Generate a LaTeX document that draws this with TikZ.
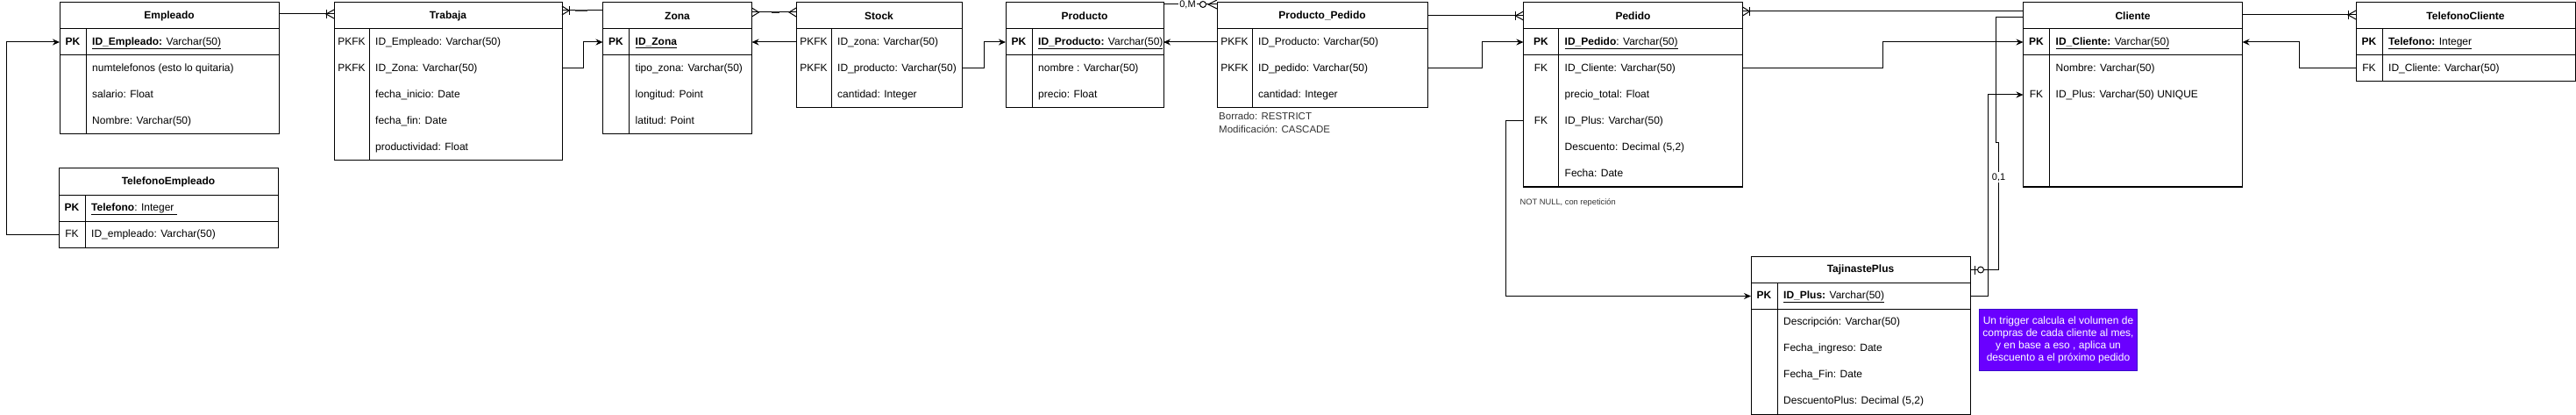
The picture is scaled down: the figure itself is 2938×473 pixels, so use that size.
\documentclass[tikz,border=0pt]{standalone}
\usepackage{fontspec}
\setmainfont{Liberation Sans}
\usetikzlibrary{arrows.meta}
\definecolor{notefill}{HTML}{6A00FF}
\definecolor{notedraw}{HTML}{3700CC}
\definecolor{txtgray}{HTML}{333333}
\tikzset{
  ln/.style={line width=1pt, draw=black},
  arr/.style={ln, -{Stealth[length=8pt,width=7pt]}},
  mk/.style={line width=1pt},
  hdrbox/.style={draw, line width=1pt, minimum height=30pt, inner sep=0pt, outer sep=0pt, font=\fontsize{12}{14}\selectfont\bfseries},
  bodybox/.style={draw, line width=1pt, inner sep=0pt, outer sep=0pt},
  rowbox/.style={minimum height=30pt, inner sep=0pt, outer sep=0pt},
  keytxt/.style={inner sep=0pt, font=\fontsize{12}{14}\selectfont, text height=8.6pt, text depth=2.5pt},
  fldtxt/.style={keytxt, anchor=west},
  lbl/.style={fill=white, inner sep=1pt, font=\fontsize{11}{13}\selectfont},
  smallnote/.style={inner sep=0pt, text=txtgray, align=left},
  trignote/.style={draw=notedraw, fill=notefill, line width=1pt, text=white, align=center, minimum width=180pt, minimum height=70pt, inner sep=0pt, font=\fontsize{12}{14}\selectfont},
}
% #1 name, #2 x, #3 y, #4 width, #5 key width, #6 rows, #7 title
\newcommand{\ERtab}[7]{%
  \node[hdrbox, minimum width=#4pt, anchor=north west] (#1) at (#2,#3) {#7};
  \node[bodybox, minimum width=#4pt, minimum height=#6*30pt, anchor=north west] (#1b) at (#2,{#3+30}) {};
  \draw[ln] ([xshift=#5pt]#1b.north west) -- ([xshift=#5pt]#1b.south west);
}
\newcommand{\ERsep}[1]{\draw[ln] ([yshift=-30pt]#1b.north west) -- ([yshift=-30pt]#1b.north east);}
% #1 name, #2 x, #3 ytop, #4 width, #5 key width, #6 key, #7 text
\newcommand{\ERrow}[7]{%
  \node[rowbox, minimum width=#4pt, anchor=north west] (#1) at (#2,#3) {};
  \node[keytxt] (#1k) at ({#2+#5/2},{#3+15}) {#6};
  \node[fldtxt] (#1f) at ({#2+#5+7},{#3+15}) {#7};
}
\newcommand{\mkcrow}[3]{\draw[mk,shift={(#1)},xscale=#2] (0,-5) -- (#3,0) -- (0,5);}
\newcommand{\mkbar}[3]{\draw[mk,shift={(#1)},xscale=#2] (#3,-5) -- (#3,5);}
\newcommand{\mkcirc}[3]{\draw[mk,fill=white,shift={(#1)},xscale=#2] (#3,0) circle[radius=3.5pt];}
\begin{document}
\begin{tikzpicture}[x=1pt,y=-1pt]
\useasboundingbox (0,0) rectangle (2938,473);

% ---------- Empleado
\ERtab{emp}{68}{3}{250}{30}{4}{Empleado}
\ERsep{emp}
\ERrow{emp1}{68}{33}{250}{30}{\textbf{PK}}{\underline{\textbf{ID\_Empleado:} Varchar(50)}}
\ERrow{emp2}{68}{63}{250}{30}{}{numtelefonos (esto lo quitaria)}
\ERrow{emp3}{68}{93}{250}{30}{}{salario: Float}
\ERrow{emp4}{68}{123}{250}{30}{}{Nombre: Varchar(50)}

% ---------- TelefonoEmpleado
\ERtab{temp}{67}{192}{250}{30}{2}{TelefonoEmpleado}
\ERsep{temp}
\ERrow{temp1}{67}{222}{250}{30}{\textbf{PK}}{\underline{\textbf{Telefono}: Integer\ }}
\ERrow{temp2}{67}{252}{250}{30}{FK}{ID\_empleado: Varchar(50)}

% ---------- Trabaja
\ERtab{tra}{381}{3}{260}{40}{5}{Trabaja}
\ERrow{tra1}{381}{33}{260}{40}{PKFK}{ID\_Empleado: Varchar(50)}
\ERrow{tra2}{381}{63}{260}{40}{PKFK}{ID\_Zona: Varchar(50)}
\ERrow{tra3}{381}{93}{260}{40}{}{fecha\_inicio: Date}
\ERrow{tra4}{381}{123}{260}{40}{}{fecha\_fin: Date}
\ERrow{tra5}{381}{153}{260}{40}{}{productividad: Float}

% ---------- Zona
\ERtab{zon}{687.5}{3}{170}{30}{4}{Zona}
\ERsep{zon}
\ERrow{zon1}{687.5}{33}{170}{30}{\textbf{PK}}{\underline{\textbf{ID\_Zona}}}
\ERrow{zon2}{687.5}{63}{170}{30}{}{tipo\_zona: Varchar(50)}
\ERrow{zon3}{687.5}{93}{170}{30}{}{longitud: Point}
\ERrow{zon4}{687.5}{123}{170}{30}{}{latitud: Point}

% ---------- Stock
\ERtab{sto}{908}{3}{189}{40}{3}{Stock}
\ERrow{sto1}{908}{33}{189}{40}{PKFK}{ID\_zona: Varchar(50)}
\ERrow{sto2}{908}{63}{189}{40}{PKFK}{ID\_producto: Varchar(50)}
\ERrow{sto3}{908}{93}{189}{40}{}{cantidad: Integer}

% ---------- Producto
\ERtab{pro}{1147}{3}{180}{30}{3}{Producto}
\ERsep{pro}
\ERrow{pro1}{1147}{33}{180}{30}{\textbf{PK}}{\underline{\textbf{ID\_Producto:} Varchar(50)}}
\ERrow{pro2}{1147}{63}{180}{30}{}{nombre : Varchar(50)}
\ERrow{pro3}{1147}{93}{180}{30}{}{precio: Float}

% ---------- Producto_Pedido
\ERtab{ppe}{1388}{3}{240}{40}{3}{Producto\_Pedido}
\ERrow{ppe1}{1388}{33}{240}{40}{PKFK}{ID\_Producto: Varchar(50)}
\ERrow{ppe2}{1388}{63}{240}{40}{PKFK}{ID\_pedido: Varchar(50)}
\ERrow{ppe3}{1388}{93}{240}{40}{}{cantidad: Integer}

% ---------- Pedido
\ERtab{ped}{1737.5}{3}{250}{40}{6}{Pedido}
\ERsep{ped}
\ERrow{ped1}{1737.5}{33}{250}{40}{\textbf{PK}}{\underline{\textbf{ID\_Pedido}: Varchar(50)}}
\ERrow{ped2}{1737.5}{63}{250}{40}{FK}{ID\_Cliente: Varchar(50)}
\ERrow{ped3}{1737.5}{93}{250}{40}{}{precio\_total: Float}
\ERrow{ped4}{1737.5}{123}{250}{40}{FK}{ID\_Plus: Varchar(50)}
\ERrow{ped5}{1737.5}{153}{250}{40}{}{Descuento: Decimal (5,2)}
\ERrow{ped6}{1737.5}{183}{250}{40}{}{Fecha: Date}

% ---------- Cliente
\ERtab{cli}{2307.5}{3}{250}{30}{6}{Cliente}
\ERsep{cli}
\ERrow{cli1}{2307.5}{33}{250}{30}{\textbf{PK}}{\underline{\textbf{ID\_Cliente:} Varchar(50)}}
\ERrow{cli2}{2307.5}{63}{250}{30}{}{Nombre: Varchar(50)}
\ERrow{cli3}{2307.5}{93}{250}{30}{FK}{ID\_Plus: Varchar(50) UNIQUE}

% ---------- TelefonoCliente
\ERtab{tcl}{2687}{3}{250}{30}{2}{TelefonoCliente}
\ERsep{tcl}
\ERrow{tcl1}{2687}{33}{250}{30}{\textbf{PK}}{\underline{\textbf{Telefono:} Integer}}
\ERrow{tcl2}{2687}{63}{250}{30}{FK}{ID\_Cliente: Varchar(50)}

% ---------- TajinastePlus
\ERtab{tjp}{1997}{292.5}{250}{30}{5}{TajinastePlus}
\ERsep{tjp}
\ERrow{tjp1}{1997}{322.5}{250}{30}{\textbf{PK}}{\underline{\textbf{ID\_Plus:} Varchar(50)}}
\ERrow{tjp2}{1997}{352.5}{250}{30}{}{Descripción: Varchar(50)}
\ERrow{tjp3}{1997}{382.5}{250}{30}{}{Fecha\_ingreso: Date}
\ERrow{tjp4}{1997}{412.5}{250}{30}{}{Fecha\_Fin: Date}
\ERrow{tjp5}{1997}{442.5}{250}{30}{}{DescuentoPlus: Decimal (5,2)}

% ---------- notes
\node[smallnote, anchor=west, font=\fontsize{11.5}{15}\selectfont] (borr) at (1390,139.5) {Borrado: RESTRICT\\Modificación: CASCADE};
\node[smallnote, anchor=west, font=\fontsize{9.3}{11}\selectfont] (nnull) at (1733.5,231.5) {NOT NULL, con repetición};
\node[trignote] (trig) at (2347.5,387.5) {Un trigger calcula el volumen de\\compras de cada cliente al mes,\\y en base a eso , aplica un\\descuento a el próximo pedido};

% ---------- connectors
% Empleado - Trabaja
\coordinate (eA) at ([yshift=2pt]emp.east);
\coordinate (eB) at ([yshift=2pt]tra.west);
\draw[ln] (eA) -- (eB);
\mkcrow{eB}{-1}{9}\mkbar{eB}{-1}{9}

% TelefonoEmpleado FK -> Empleado PK
\draw[arr] (temp2.west) -- ++(-60,0) |- (emp1.west);

% Trabaja ID_Zona -> Zona PK
\draw[arr] (tra2.east) -- ++(24,0) |- (zon1.west);

% Trabaja - Zona header
\coordinate (tzA) at ([yshift=6pt]tra.east);
\coordinate (tzB) at ([yshift=6pt]zon.west);
\draw[ln] (tzA) -- (tzB);
\draw[line width=2.5pt, black!75] ([xshift=15pt]tzA) -- ([xshift=29pt]tzA);
\mkcrow{tzA}{1}{8}\mkbar{tzA}{1}{8}

% Stock ID_zona -> Zona PK
\draw[arr] (sto1.west) -- (zon1.east);

% Zona - Stock header
\coordinate (zsA) at ([yshift=4pt]zon.east);
\coordinate (zsB) at ([yshift=4pt]sto.west);
\draw[ln] (zsA) -- (zsB);
\draw[line width=2pt, black!85] ([xshift=22pt]zsA) -- ([xshift=31pt]zsA);
\mkcrow{zsA}{1}{8}\mkcrow{zsB}{-1}{8}

% Stock ID_producto -> Producto PK
\draw[arr] (sto2.east) -- ++(25,0) |- (pro1.west);

% Producto_Pedido ID_Producto -> Producto PK
\draw[arr] (ppe1.west) -- (pro1.east);

% Producto - Producto_Pedido header
\coordinate (ppA) at ([yshift=13pt]pro.east);
\coordinate (ppB) at ([yshift=13pt]ppe.west);
\draw[ln] (ppA) -- node[lbl, xshift=-3pt] (lblM) {0,M} (ppB);
\mkcrow{ppB}{-1}{10}\mkcirc{ppB}{-1}{16}

% Producto_Pedido ID_pedido -> Pedido PK
\draw[arr] (ppe2.east) -- ++(62,0) |- (ped1.west);

% Producto_Pedido - Pedido header
\draw[ln] (ppe.east) -- (ped.west);
\mkcrow{ped.west}{-1}{9}\mkbar{ped.west}{-1}{9}

% Pedido FK ID_Plus -> TajinastePlus PK
\draw[arr] (ped4.west) -- ++(-20.5,0) |- (tjp1.west);

% Pedido ID_Cliente -> Cliente PK
\draw[arr] (ped2.east) -- ++(160,0) |- (cli1.west);

% Cliente - Pedido header
\coordinate (cpA) at ([yshift=5pt]cli.west);
\coordinate (cpB) at ([yshift=5pt]ped.east);
\draw[ln] (cpA) -- (cpB);
\mkcrow{cpB}{1}{8}\mkbar{cpB}{1}{8}

% Cliente header - TajinastePlus header (0,1)
\draw[ln] ([yshift=-2pt]cli.west) -- ++(-31,0) -- ++(0,143) -- ++(3,0)
  |- node[lbl, pos=0.135] (lbl01) {0,1} (tjp.east);
\mkbar{tjp.east}{1}{5}\mkcirc{tjp.east}{1}{12}

% TajinastePlus PK -> Cliente FK ID_Plus
\draw[arr] (tjp1.east) -- ++(20,0) |- (cli3.west);

% Cliente - TelefonoCliente header
\coordinate (ctA) at ([yshift=1pt]cli.east);
\coordinate (ctB) at ([yshift=1pt]tcl.west);
\draw[ln] (ctA) -- (ctB);
\mkcrow{ctB}{-1}{9}\mkbar{ctB}{-1}{9}

% TelefonoCliente FK -> Cliente PK
\draw[arr] (tcl2.west) -- ++(-65,0) |- (cli1.east);
\end{tikzpicture}
\end{document}
